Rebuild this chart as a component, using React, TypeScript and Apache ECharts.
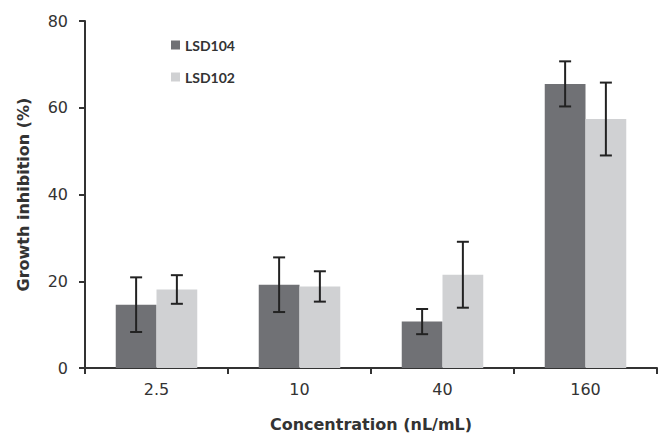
import React, { useEffect, useRef } from "react";
import * as echarts from "echarts";

const categories = ["2.5", "10", "40", "160"];
const lsd104 = [14.6, 19.2, 10.7, 65.5];
const lsd104Err = [6.3, 6.3, 2.9, 5.2];
const lsd102 = [18.1, 18.8, 21.5, 57.4];
const lsd102Err = [3.3, 3.5, 7.6, 8.4];
const yTicks = [0, 20, 40, 60, 80];

const DARK = "#707175";
const LIGHT = "#d0d1d3";
const GAP = 0.43;

function errorSeries(name: string, means: number[], errs: number[], side: number) {
  return {
    type: "custom",
    name: name + " err",
    z: 5,
    silent: true,
    data: means.map((m, i) => [i, m - errs[i], m + errs[i]]),
    renderItem: (params: any, api: any) => {
      const idx = api.value(0);
      const lo = api.coord([idx, api.value(1)]);
      const hi = api.coord([idx, api.value(2)]);
      const band = api.size([1, 0])[0];
      const off = side * band * (1 - GAP) / 4;
      const x = lo[0] + off;
      const cap = 6;
      const style = { stroke: "#222", lineWidth: 2 };
      return {
        type: "group",
        children: [
          { type: "line", shape: { x1: x, y1: lo[1], x2: x, y2: hi[1] }, style },
          { type: "line", shape: { x1: x - cap, y1: hi[1], x2: x + cap, y2: hi[1] }, style },
          { type: "line", shape: { x1: x - cap, y1: lo[1], x2: x + cap, y2: lo[1] }, style },
        ],
      };
    },
  };
}

export default function App() {
  const ref = useRef<HTMLDivElement>(null);
  useEffect(() => {
    if (!ref.current) return;
    const chart = echarts.init(ref.current, null, { renderer: "svg" });
    const font = "DejaVu Sans";
    chart.setOption({
      animation: false,
      backgroundColor: "#ffffff",
      grid: { left: 85, right: 7, top: 21, bottom: 65 },
      legend: {
        orient: "vertical",
        left: 166,
        top: 33,
        itemWidth: 9,
        itemHeight: 9,
        itemGap: 18,
        icon: "rect",
        textStyle: { fontFamily: "Lato", fontSize: 14, fontWeight: "bold", color: "#333" },
        data: ["LSD104", "LSD102"],
      },
      xAxis: {
        type: "category",
        data: categories,
        name: "Concentration (nL/mL)",
        nameLocation: "middle",
        nameGap: 48,
        nameTextStyle: { fontFamily: font, fontSize: 16, fontWeight: "bold", color: "#333" },
        axisLine: { lineStyle: { color: "#333", width: 2 } },
        axisTick: { show: true, length: 6, lineStyle: { color: "#333", width: 2 } },
        axisLabel: { fontFamily: font, fontSize: 16, color: "#333", margin: 13 },
      },
      yAxis: {
        type: "value",
        min: yTicks[0],
        max: yTicks[yTicks.length - 1],
        interval: 20,
        name: "Growth inhibition (%)",
        nameLocation: "middle",
        nameGap: 54,
        nameTextStyle: { fontFamily: font, fontSize: 16, fontWeight: "bold", color: "#333" },
        splitLine: { show: false },
        axisLine: { show: true, lineStyle: { color: "#333", width: 2 } },
        axisTick: { show: true, length: 6, lineStyle: { color: "#333", width: 2 } },
        axisLabel: { fontFamily: font, fontSize: 16, color: "#333", margin: 17 },
      },
      series: [
        {
          type: "bar",
          name: "LSD104",
          data: lsd104,
          itemStyle: { color: DARK },
          barGap: "0%",
          barCategoryGap: GAP * 100 + "%",
        },
        {
          type: "bar",
          name: "LSD102",
          data: lsd102,
          itemStyle: { color: LIGHT },
          barGap: "0%",
          barCategoryGap: GAP * 100 + "%",
        },
        errorSeries("LSD104", lsd104, lsd104Err, -1),
        errorSeries("LSD102", lsd102, lsd102Err, 1),
      ],
    });
    return () => chart.dispose();
  }, []);
  return <div ref={ref} style={{ width: 664, height: 437, position: "absolute", left: 0, top: 0 }} />;
}
